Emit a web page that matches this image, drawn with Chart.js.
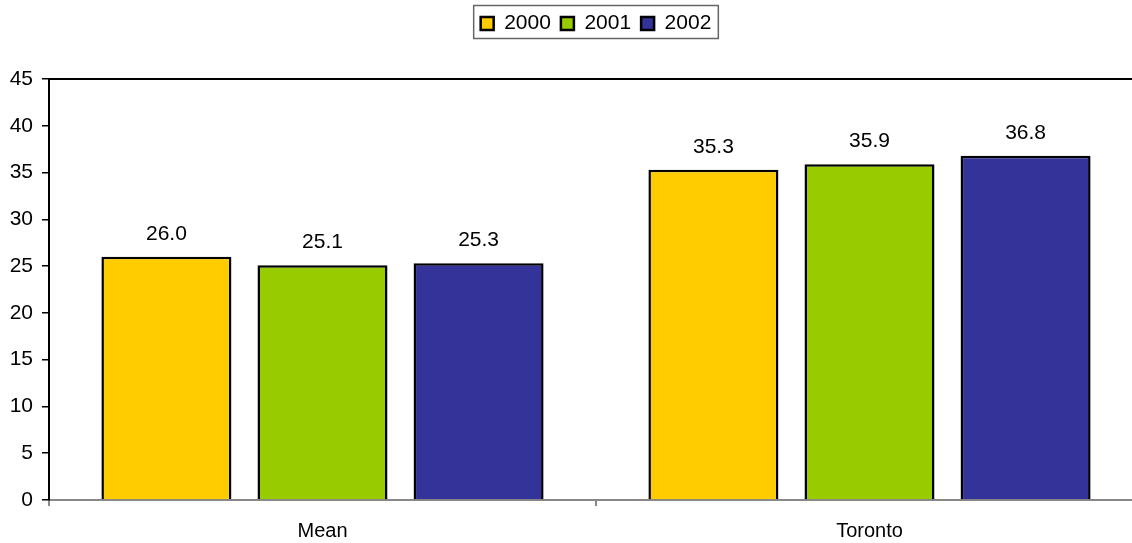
<!DOCTYPE html>
<html>
<head>
<meta charset="utf-8">
<script src="https://cdn.jsdelivr.net/npm/chart.js@4"></script>
<style>
  html, body { margin: 0; padding: 0; background: #fff; }
  #wrap { width: 1132px; height: 543px; overflow: hidden; }
</style>
</head>
<body>
<div id="wrap"><canvas id="chart" width="1143" height="543"></canvas></div>
<script>
// chart data
const categories = ["Mean", "Toronto"];
const years = ["2000", "2001", "2002"];
const values2000 = [26.0, 35.3];
const values2001 = [25.1, 35.9];
const values2002 = [25.3, 36.8];
const yTicks = [0, 5, 10, 15, 20, 25, 30, 35, 40, 45];
const colors = ["#FFCC00", "#99CC00", "#333399"];

const FONT = "'Liberation Sans', Arial, sans-serif";

// value labels above each bar
const valueLabels = {
  id: "valueLabels",
  afterDatasetsDraw(chart) {
    const ctx = chart.ctx;
    ctx.save();
    ctx.font = "21px " + FONT;
    ctx.fillStyle = "#000";
    ctx.textAlign = "center";
    ctx.textBaseline = "middle";
    chart.data.datasets.forEach((ds, i) => {
      chart.getDatasetMeta(i).data.forEach((bar, j) => {
        ctx.fillText(ds.data[j].toFixed(1), bar.x, bar.y - 23);
      });
    });
    ctx.restore();
  }
};

// frame line on top, legend box, legend centred over plot
const frame = {
  id: "frame",
  afterInit(chart) {
    const lg = chart.legend;
    const fit = lg.fit.bind(lg);
    lg.fit = function () { fit(); this.height = 79; };
  },
  afterLayout(chart) {
    chart.legend.left = chart.chartArea.left;
    chart.legend.right = chart.chartArea.right;
    chart.legend.top = 3;
  },
  afterDraw(chart) {
    const ctx = chart.ctx;
    const a = chart.chartArea;
    ctx.save();
    ctx.strokeStyle = "#000";
    ctx.lineWidth = 2;
    ctx.beginPath();
    ctx.moveTo(a.left, a.top);
    ctx.lineTo(a.right, a.top);
    ctx.stroke();

    const lg = chart.legend;
    const pad = lg.options.labels.padding;
    const lw = lg.lineWidths[0] - pad;
    const cx = (a.left + a.right) / 2;
    ctx.strokeStyle = "#666";
    ctx.lineWidth = 1.5;
    ctx.strokeRect(cx - lw / 2 - 7, 5.5, lw + 14, 33);
    ctx.restore();
  }
};

new Chart(document.getElementById("chart"), {
  type: "bar",
  data: {
    labels: categories,
    datasets: [
      { label: years[0], data: values2000, backgroundColor: colors[0] },
      { label: years[1], data: values2001, backgroundColor: colors[1] },
      { label: years[2], data: values2002, backgroundColor: colors[2] }
    ].map(d => Object.assign(d, {
      borderColor: "#000",
      borderWidth: 2.5,
      barPercentage: 0.833,
      categoryPercentage: 0.856
    }))
  },
  options: {
    responsive: false,
    animation: false,
    devicePixelRatio: 1,
    layout: { padding: 0 },
    plugins: {
      legend: {
        position: "top",
        labels: {
          color: "#000",
          font: { family: FONT, size: 21 },
          boxWidth: 13,
          boxHeight: 13,
          padding: 10
        }
      },
      tooltip: { enabled: false }
    },
    scales: {
      x: {
        afterFit(s) { s.height = 43; },
        grid: { drawOnChartArea: false, tickLength: 6, color: "#888", lineWidth: 2 },
        border: { color: "#888", width: 2 },
        ticks: { color: "#000", font: { family: FONT, size: 20 }, padding: 13 }
      },
      y: {
        min: 0,
        max: 45,
        afterFit(s) { s.width = 49; },
        afterBuildTicks(s) { s.ticks = yTicks.map(v => ({ value: v })); },
        grid: { drawOnChartArea: false, tickLength: 7, color: "#000", lineWidth: 1.5 },
        border: { color: "#000", width: 2 },
        ticks: { color: "#000", font: { family: FONT, size: 21 }, padding: 9 }
      }
    }
  },
  plugins: [valueLabels, frame]
});
</script>
</body>
</html>
